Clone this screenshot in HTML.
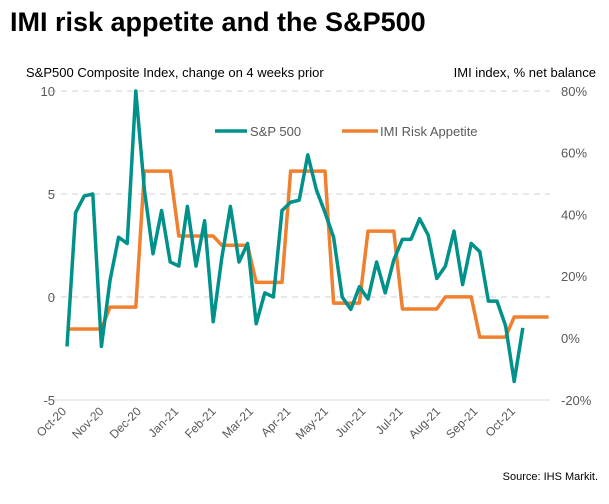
<!DOCTYPE html>
<html><head><meta charset="utf-8"><style>
body{margin:0;background:#fff;font-family:"Liberation Sans",Arial,sans-serif}
svg text{font-family:"Liberation Sans",Arial,sans-serif}
</style></head><body>
<svg id="c" width="609" height="499" viewBox="0 0 609 499">
<text x="10" y="31" font-size="27" font-weight="bold" fill="#000">IMI risk appetite and the S&amp;P500</text>
<text x="26" y="77" font-size="13" fill="#000">S&amp;P500 Composite Index, change on 4 weeks prior</text>
<text x="596" y="77" font-size="13" fill="#000" text-anchor="end">IMI index, % net balance</text>
<text x="598" y="480" font-size="11" fill="#000" text-anchor="end">Source: IHS Markit.</text>
<g id="grid"></g><g id="axes"></g><g id="series"></g>
<g>
<line x1="215" y1="131" x2="247" y2="131" stroke="#00918a" stroke-width="3.5"/>
<text x="250" y="136" font-size="13" fill="#595959">S&amp;P 500</text>
<line x1="342" y1="131" x2="378" y2="131" stroke="#f0802f" stroke-width="3.5"/>
<text x="380" y="136" font-size="13" fill="#595959">IMI Risk Appetite</text>
</g>
</svg>
<script>
const months=["Oct-20","Nov-20","Dec-20","Jan-21","Feb-21","Mar-21","Apr-21","May-21","Jun-21","Jul-21","Aug-21","Sep-21","Oct-21"];
const leftTicks=[-5,0,5,10];
const rightTicks=[-20,0,20,40,60,80];
const sp500=[-2.4,4.1,4.9,5.0,-2.4,0.8,2.9,2.6,10.0,5.2,2.1,4.2,1.7,1.5,4.4,1.5,3.7,-1.2,1.9,4.4,1.7,2.6,-1.3,0.2,0.0,4.2,4.6,4.7,6.9,5.2,4.1,2.9,0.0,-0.6,0.5,-0.1,1.7,0.2,1.8,2.8,2.8,3.8,3.0,0.9,1.5,3.2,0.6,2.6,2.2,-0.2,-0.2,-1.4,-4.1,-1.5];
const imi=[2.9,2.9,2.9,2.9,2.9,10,10,10,10,54,54,54,54,33,33,33,33,33,30,30,30,30,18,18,18,18,54,54,54,54,54,11.3,11.3,11.3,11.3,34.6,34.6,34.6,34.6,9.4,9.4,9.4,9.4,9.4,13.3,13.3,13.3,13.3,0.3,0.3,0.3,0.3,6.8,6.8,6.8,6.8,6.8];
const NS="http://www.w3.org/2000/svg";
const X0=67,WK=8.6,MO=37.4,PL=50,PR=550;
const xw=i=>X0+i*WK;
const yl=v=>297-v*20.6;
const yr=p=>338-p*3.09;
function mk(t,a,p){const e=document.createElementNS(NS,t);for(const k in a)e.setAttribute(k,a[k]);p.appendChild(e);return e;}
const grid=document.getElementById('grid'),axes=document.getElementById('axes'),ser=document.getElementById('series');
leftTicks.forEach(v=>{
 const g=mk('line',{x1:PL,x2:PR,y1:yl(v),y2:yl(v),stroke:v===-5?'#d9d9d9':'#d0d0d0','stroke-dasharray':v===-5?'':'6 5','stroke-width':1},grid);
 
 
 const t=mk('text',{x:55,y:yl(v)+5,'font-size':13,fill:'#595959','text-anchor':'end'},axes);t.textContent=v;
 
 
});
rightTicks.forEach(p=>{
 const t=mk('text',{x:561,y:yr(p)+5,'font-size':13,fill:'#595959'},axes);t.textContent=p+'%';
 
 
});
months.forEach((m,i)=>{
 const x=X0+i*MO,y=412;
 const t=mk('text',{x:x,y:y,'font-size':12,fill:'#595959','text-anchor':'end',transform:`rotate(-45 ${x} ${y})`},axes);t.textContent=m;
 
 
});
const p2=mk('polyline',{points:imi.map((v,i)=>xw(i)+','+yr(v)).join(' '),fill:'none',stroke:'#f0802f','stroke-width':3.5,'stroke-linejoin':'round'},ser);


const p1=mk('polyline',{points:sp500.map((v,i)=>xw(i)+','+yl(v)).join(' '),fill:'none',stroke:'#00918a','stroke-width':3.5,'stroke-linejoin':'round'},ser);


</script>
</body></html>
